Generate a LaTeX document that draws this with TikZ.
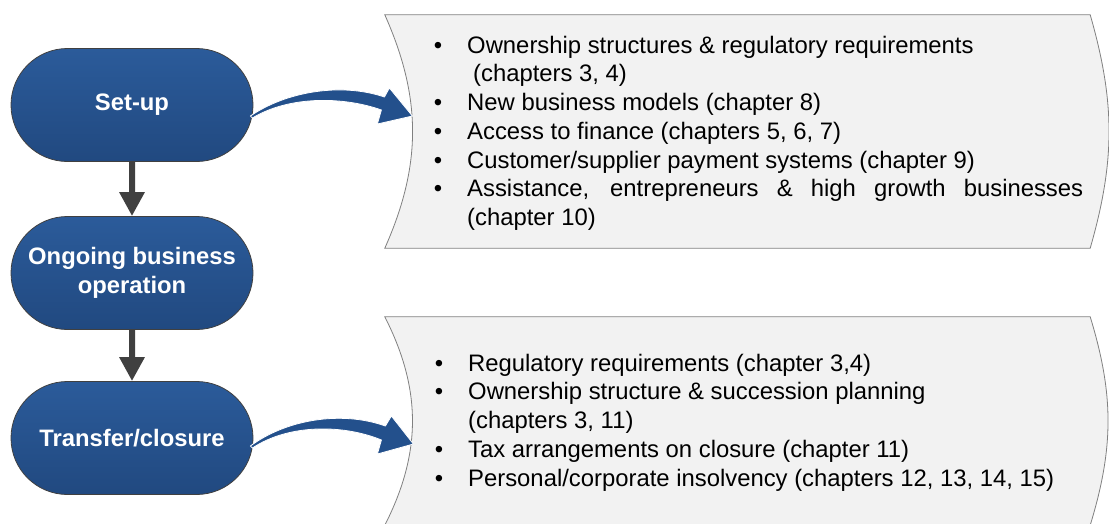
\documentclass[tikz,border=0pt]{standalone}
\usepackage{fontspec}
\setmainfont{Liberation Sans}
\usepackage{enumitem}
\usepackage{tikz}
\usetikzlibrary{arrows.meta,positioning,shapes.misc}

\definecolor{pilltop}{RGB}{43,91,154}
\definecolor{pillbottom}{RGB}{33,73,128}
\definecolor{curveblue}{RGB}{35,80,140}
\definecolor{stepgray}{RGB}{64,64,64}
\definecolor{panelfill}{RGB}{242,242,242}
\definecolor{panelgray}{RGB}{128,128,128}

\begin{document}
\begin{tikzpicture}
[x=1pt, y=-1pt,
% STYLES
% The stage style is used to draw the three phases of the business
stage/.style={rounded rectangle, draw=stepgray, line width=0.8pt, top color=pilltop, bottom color=pillbottom, minimum width=242pt, minimum height=113pt, inner sep=0pt, text=white, align=center, font=\bfseries\fontsize{23.8}{29}\selectfont},
% The panel style keeps the place of the grey boxes, the outline is drawn after
panel/.style={rectangle, minimum width=705pt, inner sep=0pt},
panelline/.style={draw=panelgray, line width=0.8pt, fill=panelfill},
% The topics style is used for the bullet lists
topics/.style={anchor=base west, inner sep=0pt, text width=646pt, align=justify, font=\fontsize{23.85}{28.7}\selectfont},
down/.style={stepgray, line width=6pt, -{Triangle[length=24pt,width=24pt]}},
swoosh/.style={fill=curveblue, draw=white, line width=0.8pt}]

\clip (0,0) rectangle (1109,523);
\useasboundingbox (0,0) rectangle (1109,523);

% Draw stages
\node [stage] (setup) at (132,105) {Set-up};
\node [stage] (ongoing) at (132,273) {Ongoing business\\operation};
\node [stage] (transfer) at (132,438) {Transfer/closure};

% Draw panels
\node [panel, minimum height=233pt] (setuppanel) at (737.5,131.5) {};
\node [panel, minimum height=208pt] (closepanel) at (737.5,421) {};
\draw [panelline] (setuppanel.north west) to[bend left=24] (setuppanel.south west)
  -- (setuppanel.south east) to[bend right=16] (setuppanel.north east) -- cycle;
\draw [panelline] (closepanel.north west) to[bend left=27] (closepanel.south west)
  -- (closepanel.south east) to[bend right=17] (closepanel.north east) -- cycle;

%%%%%%%%%%%%%%%
% Lists

% SET-UP
\node [topics] (setuplist) at (437,24.5) {%
\begin{itemize}[leftmargin=30pt,labelsep=25pt,itemsep=0pt,parsep=0pt,topsep=0pt,partopsep=0pt]
\item Ownership structures \& regulatory requirements\\\hspace*{6pt}(chapters 3, 4)
\item New business models (chapter 8)
\item Access to finance (chapters 5, 6, 7)
\item Customer/supplier payment systems (chapter 9)
\item Assistance, entrepreneurs \& high growth businesses \mbox{(chapter 10)}
\end{itemize}};

% TRANSFER/CLOSURE
\node [topics] (closelist) at (437,342.5) {%
\begin{itemize}[leftmargin=31pt,labelsep=25pt,itemsep=0pt,parsep=0pt,topsep=0pt,partopsep=0pt]
\item Regulatory requirements (chapter 3,4)
\item Ownership structure \& succession planning\\(chapters 3, 11)
\item Tax arrangements on closure (chapter 11)
\item Personal/corporate insolvency (chapters 12, 13, 14, 15)
\end{itemize}};

%%%%%%%%%%%%%%%

% Draw the links between stages
\draw [down] (setup) -- (ongoing);
\draw [down] (ongoing) -- (transfer);

% Curved arrows to the panels
\begin{scope}[shift={(setup.east)}]
\path [swoosh] (-3,11) .. controls (32,-13) and (87,-23) .. (131,-8) -- (136,-17)
  -- (159,11) -- (124,19) -- (128,5) .. controls (92,-8) and (37,-10) .. (-1,13) -- cycle;
\end{scope}
\begin{scope}[shift={(transfer.east)}, yshift=3pt]
\path [swoosh] (-3,11) .. controls (32,-15) and (87,-25) .. (132,-9) -- (138,-19)
  -- (160,9) -- (124,19) -- (128,5) .. controls (92,-10) and (37,-12) .. (-1,13) -- cycle;
\end{scope}

\end{tikzpicture}
\end{document}
